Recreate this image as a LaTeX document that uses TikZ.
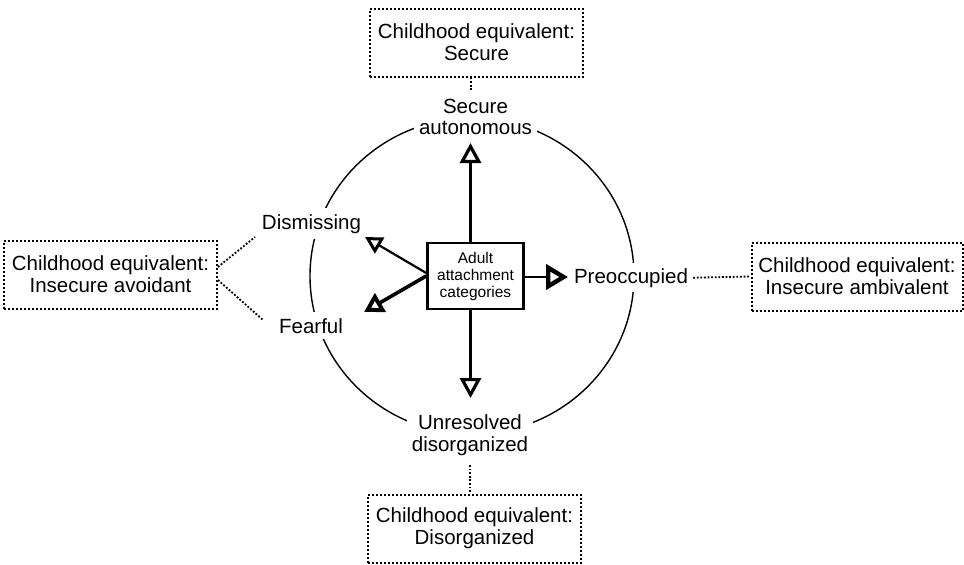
\documentclass[tikz,border=0pt]{standalone}
\usepackage{fontspec}
\setmainfont{Liberation Sans}
\usetikzlibrary{arrows.meta}
\begin{document}
\begin{tikzpicture}[x=1pt,y=-1pt,
  catlabel/.style={font=\fontsize{20.5}{21.5}\selectfont, align=center, fill=white,
    inner xsep=5pt, inner ysep=6pt},
  equiv/.style={draw, dash pattern=on 2pt off 2pt, line width=2pt,
    font=\fontsize{20.5}{22}\selectfont, align=center,
    minimum width=213pt, minimum height=68pt, inner sep=0pt},
  link/.style={line width=1.8pt, dash pattern=on 1.8pt off 1.8pt},
  spoke/.style={line width=2.2pt,
    -{Triangle[open, length=20pt, width=21pt, line width=3.2pt]}},
  spokesmall/.style={line width=2.2pt,
    -{Triangle[open, length=17pt, width=18pt, line width=3pt]}},
  spokebold/.style={line width=3.6pt,
    -{Triangle[open, length=19pt, width=21pt, line width=4pt]}},
  spokeright/.style={line width=2.6pt,
    -{Triangle[open, length=22pt, width=25pt, line width=4.4pt]}},
]
\useasboundingbox (0,0) rectangle (964,565);

% ring of attachment styles
\draw[line width=1.4pt] (472,276) ellipse [x radius=162, y radius=158];

% category labels sitting on the ring
\node[catlabel] (sec) at (475.5,117) {Secure\\autonomous};
\node[catlabel] (unr) at (470,435) {Unresolved\\disorganized};
\node[catlabel, anchor=base] (dis) at (311.5,229) {Dismissing};
\node[catlabel, anchor=base] (fea) at (311,333) {Fearful};
\node[catlabel, anchor=base, inner ysep=5pt] (pre) at (631,283) {Preoccupied};

% central box
\node[draw, line width=2.6pt, minimum width=96pt, minimum height=66pt,
  inner sep=0pt, align=center, font=\fontsize{15.5}{17}\selectfont]
  (cat) at (475.5,276) {Adult\\attachment\\categories};

% spokes from the central box
\coordinate (tipU) at (470.5,143);
\coordinate (tipD) at (470.5,398);
\coordinate (tipR) at (568,277);
\coordinate (tipDis) at (365,237);
\coordinate (tipFea) at (364,312);
\draw[spoke] (cat.north -| tipU) -- (tipU);
\draw[spoke] (cat.south -| tipD) -- (tipD);
\draw[spokeright] (cat.east |- tipR) -- (tipR);
\draw[spokesmall] ([yshift=3pt]cat.west) -- (tipDis);
\draw[spokebold] (cat.west) -- (tipFea);

% childhood equivalents
\node[equiv] (topbox) at (476.5,42.5) {Childhood equivalent:\\Secure};
\node[equiv] (botbox) at (474.5,528.5) {Childhood equivalent:\\Disorganized};
\node[equiv] (leftbox) at (110.5,274.5) {Childhood equivalent:\\Insecure avoidant};
\node[equiv, minimum width=211pt] (rightbox) at (857,276.5)
  {Childhood equivalent:\\Insecure ambivalent};

% dotted links between adult and childhood categories
\coordinate (secT) at (471,91);
\coordinate (unrB) at (470,465);
\coordinate (disL) at (255,237);
\coordinate (feaL) at (263,320);
\draw[link] (topbox.south -| secT) -- (secT);
\draw[link] (unrB) -- (unrB |- botbox.north);
\draw[link] ([yshift=7.5pt]leftbox.east) -- (disL);
\draw[link] ([yshift=-5.5pt]leftbox.east) -- (feaL);
\draw[link] (pre.east) -- (rightbox.west);
\end{tikzpicture}
\end{document}
